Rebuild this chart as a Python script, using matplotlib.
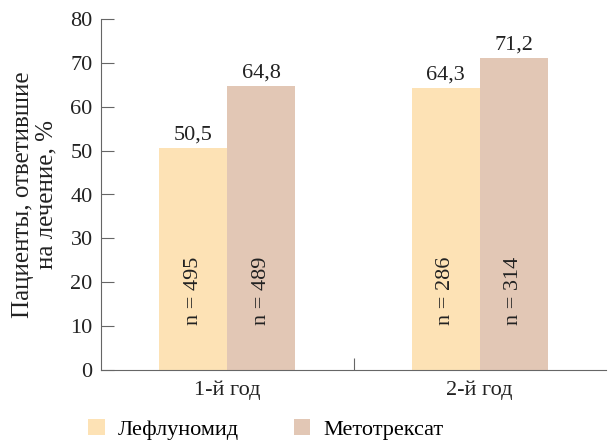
import matplotlib
matplotlib.use("Agg")
import matplotlib.pyplot as plt
from matplotlib.patches import Patch
import numpy as np

categories = ["1-й год", "2-й год"]
series_names = ["Лефлуномид", "Метотрексат"]
leflunomide = [50.5, 64.3]
methotrexate = [64.8, 71.2]
n_leflunomide = [495, 286]
n_methotrexate = [489, 314]
value_labels_lef = ["50,5", "64,3"]
value_labels_met = ["64,8", "71,2"]
colors = ["#FDE2B5", "#E2C7B5"]

plt.rcParams["font.family"] = ["Liberation Serif", "DejaVu Serif"]
fs = 16

fig = plt.figure(figsize=(6.12, 4.4), dpi=100)
ax = fig.add_axes([101 / 612, 70 / 440, 505 / 612, 351 / 440])

x = np.arange(len(categories))
w = 0.27
b1 = ax.bar(x - w / 2, leflunomide, w, color=colors[0], linewidth=0)
b2 = ax.bar(x + w / 2, methotrexate, w, color=colors[1], linewidth=0)

for rects, vals, labs, ns in [(b1, leflunomide, value_labels_lef, n_leflunomide),
                              (b2, methotrexate, value_labels_met, n_methotrexate)]:
    for r, v, lab, n in zip(rects, vals, labs, ns):
        cx = r.get_x() + r.get_width() / 2
        ax.text(cx, v + 0.8, lab, ha="center", va="bottom", fontsize=fs, color="#222222")
        ax.text(cx, 18, f"n = {n}", ha="center", va="center", rotation=90,
                fontsize=fs, color="#222222")

ax.set_xlim(-0.5, 1.5)
ax.set_ylim(0, 80)
ax.set_yticks(np.arange(0, 81, 10))
ax.set_xticks([0.5])
ax.set_xticklabels([""])
ax.tick_params(axis="y", direction="in", length=9, width=0.8, color="#666666",
               labelsize=fs, labelcolor="#222222", pad=6)
ax.tick_params(axis="x", direction="in", length=9, width=0.8, color="#666666")
for i, c in enumerate(categories):
    ax.text(i, -2.5, c, ha="center", va="top", fontsize=fs, color="#222222")

for s in ["top", "right"]:
    ax.spines[s].set_visible(False)
for s in ["left", "bottom"]:
    ax.spines[s].set_color("#666666")
    ax.spines[s].set_linewidth(0.8)

ax.set_ylabel("Пациенты, ответившие\nна лечение, %", fontsize=18, color="#222222",
              linespacing=1.1, labelpad=9)

handles = [Patch(facecolor=colors[0], edgecolor="none"),
           Patch(facecolor=colors[1], edgecolor="none")]
fig.legend(handles, series_names, loc="lower left", bbox_to_anchor=(68 / 612, -0.045),
           ncol=2, frameon=False, fontsize=fs, handlelength=0.75, handleheight=0.75,
           columnspacing=2.45, handletextpad=0.6)

fig.savefig("out.png", dpi=100)
